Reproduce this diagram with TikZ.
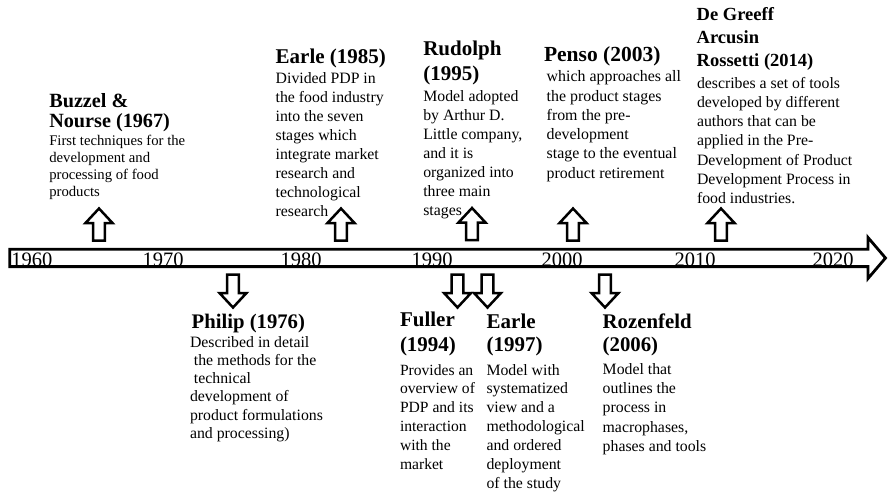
\documentclass[tikz,border=0pt]{standalone}
\usepackage{fontspec}
\setmainfont{Liberation Serif}

% stack of left-aligned lines whose baseline is that of the first line
\newcommand\tlines[1]{\vtop{\lineskiplimit=-100pt\relax\halign{##\hfil\cr#1\crcr}}}

\tikzset{
  blockline/.style={draw=black, line width=2.5pt, line join=miter, fill=white},
  txt/.style={inner sep=0pt, outer sep=0pt, anchor=base west},
  ttl/.style={txt, font=\bfseries\fontsize{21}{25}\selectfont},
  body/.style={txt, font=\fontsize{15.8}{18.9}\selectfont},
  yearlbl/.style={inner sep=0pt, anchor=base, font=\fontsize{20.5}{24}\selectfont},
  uparrow/.pic={
    \path[blockline] (0,0) -- (13.5,14.5) -- (5.8,14.5) -- (5.8,32)
      -- (-5.8,32) -- (-5.8,14.5) -- (-13.5,14.5) -- cycle;
  },
  downarrow/.pic={
    \path[blockline] (0,0) -- (13.5,-14.5) -- (5.8,-14.5) -- (5.8,-33)
      -- (-5.8,-33) -- (-5.8,-14.5) -- (-13.5,-14.5) -- cycle;
  }
}

\begin{document}
\begin{tikzpicture}[x=1pt, y=-1pt]
\useasboundingbox (0,0) rectangle (889,496);

% time axis as one big hollow arrow
\path[blockline, line width=2.8pt] (9.7,249.2) -- (868,249.2) -- (868,237.5)
  -- (885.5,258) -- (868,278.5) -- (868,266.6) -- (9.7,266.6) -- cycle;

% decades
\node[yearlbl] (y1960) at (32,266) {1960};
\node[yearlbl] (y1970) at (163,266) {1970};
\node[yearlbl] (y1980) at (301,266) {1980};
\node[yearlbl] (y1990) at (432,266) {1990};
\node[yearlbl] (y2000) at (562,266) {2000};
\node[yearlbl] (y2010) at (695,266) {2010};
\node[yearlbl] (y2020) at (833,266) {2020};

% markers above the axis
\pic (m1967) at (99,208.5) {uparrow};
\pic (m1985) at (341,208.5) {uparrow};
\pic (m1995) at (472,208) {uparrow};
\pic (m2003) at (573,208.5) {uparrow};
\pic (m2014) at (721,208.5) {uparrow};

% markers below the axis
\pic (m1976) at (233,307.5) {downarrow};
\pic (m1994) at (457.5,307.5) {downarrow};
\pic (m1997) at (487.5,307.5) {downarrow};
\pic (m2006) at (605,307.5) {downarrow};

% entries above the axis
\node[ttl, font=\bfseries\fontsize{20.2}{19.6}\selectfont] (t1967) at (49.3,107.6)
  {\tlines{Buzzel \&\cr Nourse (1967)}};
\node[body, font=\fontsize{14.7}{17.3}\selectfont] (b1967) at (49.3,145)
  {\tlines{First techniques for the\cr development and\cr processing of food\cr products}};

\node[ttl] (t1985) at (275.7,63.3) {\tlines{Earle (1985)}};
\node[body, font=\fontsize{15.8}{19}\selectfont] (b1985) at (275.7,83.3)
  {\tlines{Divided PDP in\cr the food industry\cr into the seven\cr stages which\cr integrate market\cr research and\cr technological\cr research}};

\node[ttl] (t1995) at (423.3,55) {\tlines{Rudolph\cr (1995)}};
\node[body] (b1995) at (423.3,101.7)
  {\tlines{Model adopted\cr by Arthur D.\cr Little company,\cr and it is\cr organized into\cr three main\cr stages}};

\node[ttl, font=\bfseries\fontsize{21.5}{25}\selectfont] (t2003) at (544,61.7) {\tlines{Penso (2003)}};
\node[body, font=\fontsize{15.9}{19.3}\selectfont] (b2003) at (546.7,81.7)
  {\tlines{which approaches all\cr the product stages\cr from the pre-\cr development\cr stage to the eventual\cr product retirement}};

\node[ttl, font=\bfseries\fontsize{18.5}{23.3}\selectfont] (t2014) at (696.7,20)
  {\tlines{De Greeff\cr Arcusin\cr Rossetti (2014)}};
\node[body, font=\fontsize{15.8}{19.2}\selectfont] (b2014) at (697,88.3)
  {\tlines{describes a set of tools\cr developed by different\cr authors that can be\cr applied in the Pre-\cr Development of Product\cr Development Process in\cr food industries.}};

% entries below the axis
\node[ttl, font=\bfseries\fontsize{20.7}{25}\selectfont] (t1976) at (191.7,328.3) {\tlines{Philip (1976)}};
\node[body, font=\fontsize{15.8}{18.2}\selectfont] (b1976) at (190,347.3)
  {\tlines{Described in detail\cr \kern.25em the methods for the\cr \kern.25em technical\cr development of\cr product formulations\cr and processing)}};

\node[ttl] (t1994) at (400,326.7) {\tlines{Fuller\cr (1994)}};
\node[body, font=\fontsize{15.6}{18.9}\selectfont] (b1994) at (400,375)
  {\tlines{Provides an\cr overview of\cr PDP and its\cr interaction\cr with the\cr market}};

\node[ttl, font=\bfseries\fontsize{21}{23.5}\selectfont] (t1997) at (486.7,328.3) {\tlines{Earle\cr (1997)}};
\node[body] (b1997) at (486.5,375)
  {\tlines{Model with\cr systematized\cr view and a\cr methodological\cr and ordered\cr deployment\cr of the study}};

\node[ttl, font=\bfseries\fontsize{20.8}{23.5}\selectfont] (t2006) at (602.7,328.3) {\tlines{Rozenfeld\cr (2006)}};
\node[body, font=\fontsize{15.8}{19.4}\selectfont] (b2006) at (602.7,374)
  {\tlines{Model that\cr outlines the\cr process in\cr macrophases,\cr phases and tools}};
\end{tikzpicture}
\end{document}
